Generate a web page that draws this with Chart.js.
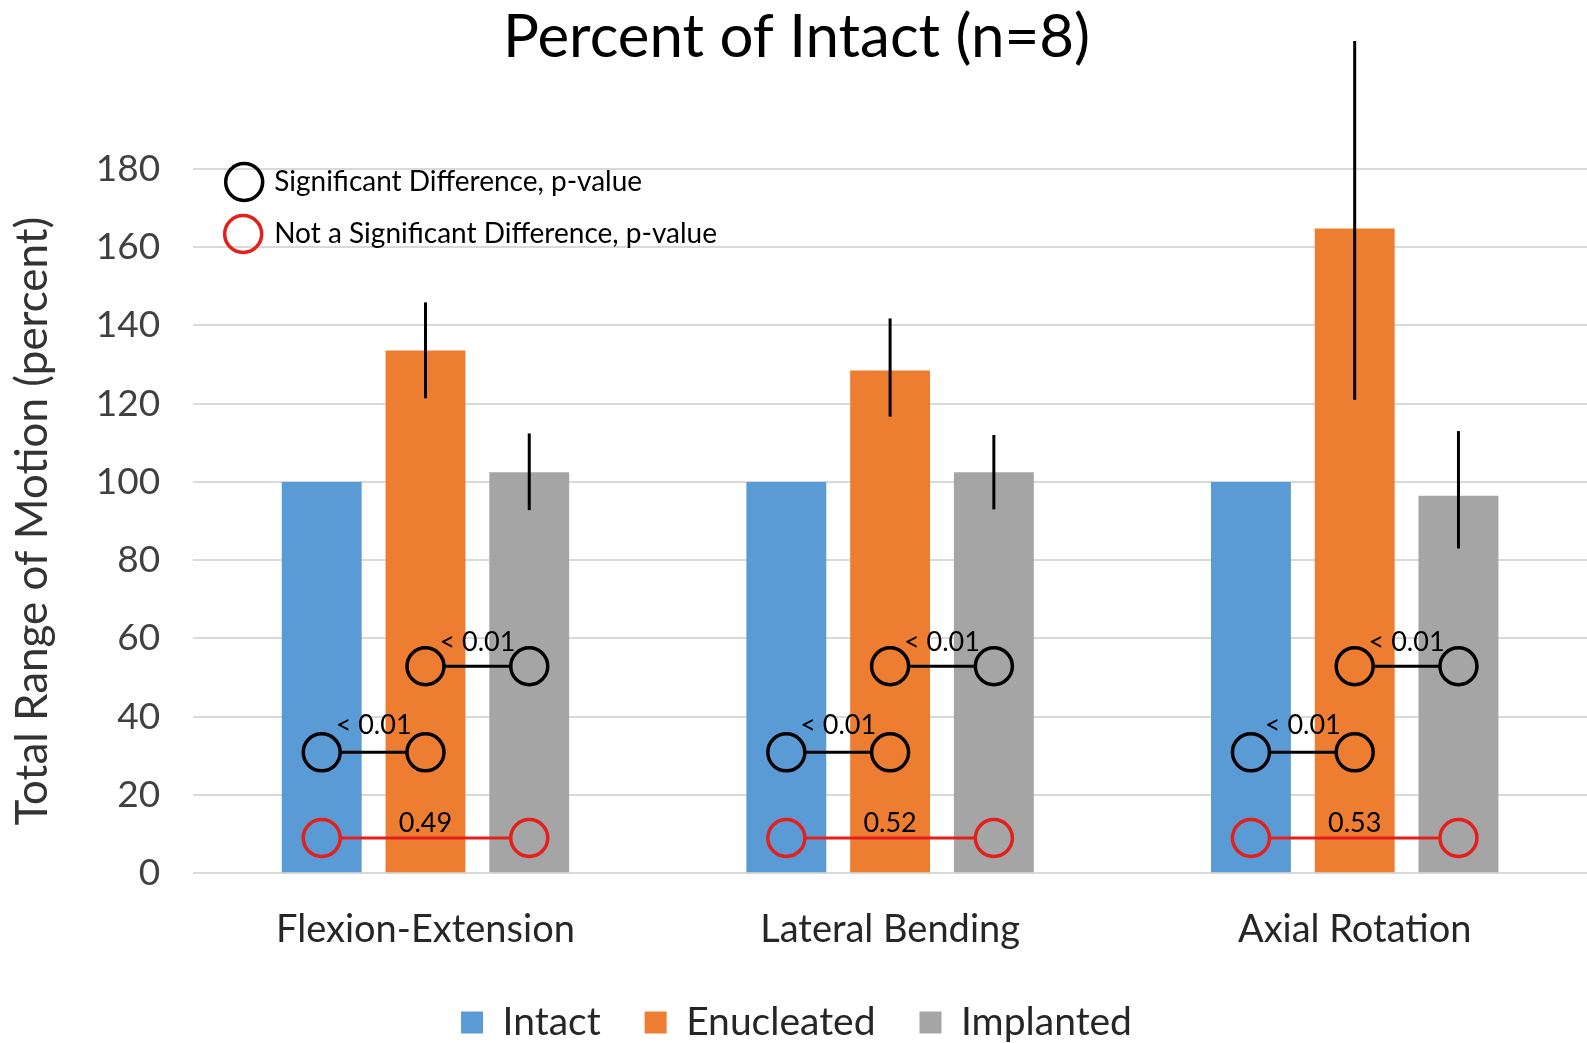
<!DOCTYPE html>
<html>
<head>
<meta charset="utf-8">
<script src="https://cdn.jsdelivr.net/npm/chart.js@4.4.0/dist/chart.umd.min.js"></script>
<style>
  html, body { margin: 0; padding: 0; background: #fff; }
  #wrap { width: 1587px; height: 1043px; }
</style>
</head>
<body>
<div id="wrap"><canvas id="myChart"></canvas></div>
<script>
const categories = ["Flexion-Extension", "Lateral Bending", "Axial Rotation"];
const intact = [100, 100, 100];
const enucleated = [133.6, 128.5, 164.8];
const implanted = [102.5, 102.5, 96.5];
// error bar extents above / below each bar
const enucleatedErrUp = [12.3, 13.3, 47.9];
const enucleatedErrDown = [12.2, 11.8, 43.8];
const implantedErrUp = [9.9, 9.5, 16.5];
const implantedErrDown = [9.7, 9.5, 13.5];
const yTicks = [0, 20, 40, 60, 80, 100, 120, 140, 160, 180];

// p-values between pairs of groups, per category
const pIntactEnuc = ["< 0.01", "< 0.01", "< 0.01"];
const pEnucImpl = ["< 0.01", "< 0.01", "< 0.01"];
const pIntactImpl = ["0.49", "0.52", "0.53"];

const FONT = "Lato, 'Open Sans', sans-serif";
const BLUE = "#5B9BD5", ORANGE = "#ED7D31", GRAY = "#A5A5A5", RED = "#E3201B";
const LEGEND_TRIM = 34; // pull the bottom legend closer to the axis labels

function drawCircle(ctx, x, y, color) {
  ctx.beginPath();
  ctx.arc(x, y, 18.5, 0, Math.PI * 2);
  ctx.strokeStyle = color;
  ctx.lineWidth = 3.5;
  ctx.stroke();
}

function drawPair(ctx, x1, x2, y, color, label, textGap) {
  ctx.beginPath();
  ctx.moveTo(x1 + 18.5, y);
  ctx.lineTo(x2 - 18.5, y);
  ctx.strokeStyle = color;
  ctx.lineWidth = 3;
  ctx.stroke();
  drawCircle(ctx, x1, y, color);
  drawCircle(ctx, x2, y, color);
  ctx.fillStyle = "#000";
  ctx.font = "27px " + FONT;
  ctx.textAlign = "center";
  ctx.textBaseline = "middle";
  ctx.fillText(label, (x1 + x2) / 2, y - textGap);
}

const extrasPlugin = {
  id: "extras",
  beforeLayout(chart) {
    const lg = chart.legend;
    if (lg && !lg._trimmed) {
      const fit = lg.fit;
      lg.fit = function () {
        fit.call(this);
        this.height -= LEGEND_TRIM;
      };
      lg._trimmed = true;
    }
  },
  afterLayout(chart) {
    const lg = chart.legend;
    if (lg) {
      lg.top -= LEGEND_TRIM;
      lg.height += LEGEND_TRIM;
    }
  },
  afterDatasetsDraw(chart) {
    const ctx = chart.ctx;
    const yScale = chart.scales.y;
    const area = chart.chartArea;
    const m0 = chart.getDatasetMeta(0).data;
    const m1 = chart.getDatasetMeta(1).data;
    const m2 = chart.getDatasetMeta(2).data;

    ctx.save();
    // error bars
    ctx.strokeStyle = "#000";
    ctx.lineWidth = 3;
    categories.forEach(function (c, i) {
      [
        [m1[i], enucleated[i], enucleatedErrUp[i], enucleatedErrDown[i]],
        [m2[i], implanted[i], implantedErrUp[i], implantedErrDown[i]],
      ].forEach(function (e) {
        ctx.beginPath();
        ctx.moveTo(e[0].x, yScale.getPixelForValue(e[1] + e[2]));
        ctx.lineTo(e[0].x, yScale.getPixelForValue(e[1] - e[3]));
        ctx.stroke();
      });
    });

    // significance markers
    categories.forEach(function (c, i) {
      drawPair(ctx, m1[i].x, m2[i].x, yScale.getPixelForValue(52.9), "#000", pEnucImpl[i], 24);
      drawPair(ctx, m0[i].x, m1[i].x, yScale.getPixelForValue(30.9), "#000", pIntactEnuc[i], 27);
      drawPair(ctx, m0[i].x, m2[i].x, yScale.getPixelForValue(9), RED, pIntactImpl[i], 15);
    });

    // marker legend
    const lx = area.left + 51;
    drawCircle(ctx, lx, area.top + 13, "#000");
    drawCircle(ctx, lx - 1, area.top + 65, RED);
    ctx.fillStyle = "#000";
    ctx.font = "28px " + FONT;
    ctx.textAlign = "left";
    ctx.textBaseline = "middle";
    ctx.fillText("Significant Difference, p-value", lx + 30, area.top + 13);
    ctx.fillText("Not a Significant Difference, p-value", lx + 30, area.top + 65);
    ctx.restore();
  }
};

const ctx = document.getElementById("myChart");

const data = {
  labels: categories,
  datasets: [
    { label: "Intact", data: intact, backgroundColor: BLUE },
    { label: "Enucleated", data: enucleated, backgroundColor: ORANGE },
    { label: "Implanted", data: implanted, backgroundColor: GRAY },
  ],
};

const options = {
  responsive: true,
  maintainAspectRatio: false,
  animation: false,
  categoryPercentage: 0.67,
  barPercentage: 0.77,
  layout: { padding: { left: 6, right: 0, top: 0, bottom: -9 } },
  plugins: {
    title: {
      display: true,
      text: "Percent of Intact (n=8)",
      color: "#000",
      font: { family: FONT, size: 60, weight: "normal" },
      padding: { top: 2, bottom: 95 },
    },
    legend: {
      position: "bottom",
      labels: {
        color: "#262626",
        font: { family: FONT, size: 39 },
        boxWidth: 22,
        boxHeight: 22,
        padding: 44,
      },
    },
    tooltip: { enabled: false },
  },
  scales: {
    x: {
      grid: { display: false },
      border: { display: false },
      ticks: { color: "#262626", font: { family: FONT, size: 38 }, padding: 26 },
      title: { display: true, text: "", font: { size: 1 }, padding: { top: 0, bottom: 13 } },
    },
    y: {
      min: 0,
      max: 180,
      afterBuildTicks: function (axis) {
        axis.ticks = yTicks.map(function (v) { return { value: v }; });
      },
      grid: { color: "#D9D9D9", lineWidth: 2, drawTicks: false },
      border: { display: false },
      ticks: { color: "#404040", font: { family: FONT, size: 37 }, padding: 33 },
      title: {
        display: true,
        text: "Total Range of Motion (percent)",
        color: "#333",
        font: { family: FONT, size: 44 },
        padding: { top: 0, bottom: 4 },
      },
    },
  },
};

const myChart = new Chart(ctx, {
  type: "bar",
  data: data,
  options: options,
  plugins: [extrasPlugin],
});
</script>
</body>
</html>
